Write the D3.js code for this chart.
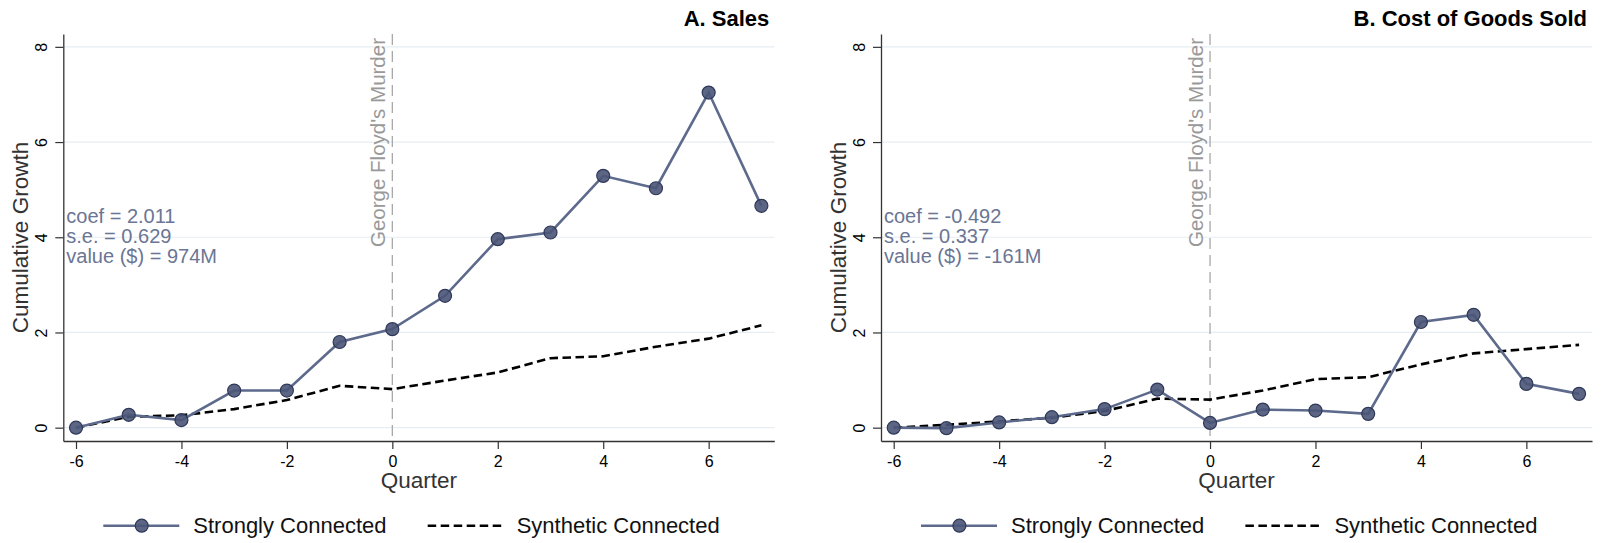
<!DOCTYPE html>
<html>
  <head>
    <meta charset="utf-8" />
    <title>Cumulative Growth</title>
    <script src="https://d3js.org/d3.v7.min.js"></script>
    <style>
      body { margin: 0; background: #fff; }
      text { font-family: "Liberation Sans", Arial, Helvetica, sans-serif; }
    </style>
  </head>
  <body>
    <svg width="1601" height="543"></svg>
    <script>
      var quarters = [-6, -5, -4, -3, -2, -1, 0, 1, 2, 3, 4, 5, 6, 7];

      var salesStrong = [0, 0.27, 0.16, 0.78, 0.78, 1.8, 2.07, 2.77, 3.96, 4.1, 5.29, 5.03, 7.04, 4.66];
      var salesSynth = [0, 0.23, 0.26, 0.39, 0.58, 0.88, 0.81, 0.99, 1.16, 1.46, 1.5, 1.7, 1.87, 2.15];

      var cogsStrong = [0, -0.01, 0.11, 0.22, 0.39, 0.8, 0.1, 0.38, 0.36, 0.29, 2.22, 2.37, 0.92, 0.71];
      var cogsSynth = [0, 0.06, 0.13, 0.21, 0.35, 0.61, 0.59, 0.78, 1.02, 1.06, 1.33, 1.56, 1.65, 1.74];

      var salesStats = ["coef = 2.011", "s.e. = 0.629", "value ($) = 974M"];
      var cogsStats = ["coef = -0.492", "s.e. = 0.337", "value ($) = -161M"];

      var xTicks = [-6, -4, -2, 0, 2, 4, 6];
      var yTicks = [0, 2, 4, 6, 8];

      var svg = d3.select("svg");

      var plotW = 711,
        plotH = 407,
        plotTop = 34;

      var lineColor = "#5d6a8c",
        markerFill = "#4a5577",
        markerStroke = "#2e3858";

      function drawPanel(left, title, strong, synth, stats) {
        var g = svg.append("g").attr("transform", "translate(" + left + "," + plotTop + ")");

        var x = d3.scaleLinear().domain([-6.241, 7.245]).range([0, plotW]);
        var y = d3.scaleLinear().domain([-0.28, 8.27]).range([plotH, 0]);

        // gridlines
        g.selectAll(".grid")
          .data(yTicks)
          .enter()
          .append("line")
          .attr("x1", 0)
          .attr("x2", plotW)
          .attr("y1", (d) => y(d))
          .attr("y2", (d) => y(d))
          .attr("stroke", "#e6edf3")
          .attr("stroke-width", 1.2);

        // event line
        g.append("line")
          .attr("x1", x(0))
          .attr("x2", x(0))
          .attr("y1", 0)
          .attr("y2", plotH)
          .attr("stroke", "#a8a8a8")
          .attr("stroke-width", 1.3)
          .attr("stroke-dasharray", "11,6");

        g.append("text")
          .attr("transform", "translate(" + (x(0) - 7) + "," + 4 + ") rotate(-90)")
          .attr("text-anchor", "end")
          .attr("font-size", 20.5)
          .attr("fill", "#999999")
          .text("George Floyd's Murder");

        // axes
        var fmt = (d) => String(d);
        var yAxis = g.append("g").call(d3.axisLeft(y).tickValues(yTicks).tickFormat(fmt).tickSize(8).tickSizeOuter(0));
        yAxis.selectAll("text")
          .attr("transform", "rotate(-90)")
          .attr("x", 0)
          .attr("y", -16)
          .attr("dy", 0)
          .attr("text-anchor", "middle")
          .attr("font-size", 16)
          .attr("fill", "#000");

        var xAxis = g.append("g")
          .attr("transform", "translate(0," + plotH + ")")
          .call(d3.axisBottom(x).tickValues(xTicks).tickFormat(fmt).tickSize(8).tickSizeOuter(0).tickPadding(7));
        xAxis.selectAll("text").attr("font-size", 16).attr("fill", "#000");

        [yAxis, xAxis].forEach(function (a) {
          a.attr("font-family", null);
          a.select(".domain").attr("stroke", "#333").attr("stroke-width", 1.3);
          a.selectAll(".tick line").attr("stroke", "#333").attr("stroke-width", 1.2);
        });

        // axis titles
        g.append("text")
          .attr("transform", "translate(-35," + plotH / 2 + ") rotate(-90)")
          .attr("text-anchor", "middle")
          .attr("font-size", 22.5)
          .attr("fill", "#333")
          .text("Cumulative Growth");

        g.append("text")
          .attr("x", plotW / 2)
          .attr("y", plotH + 47)
          .attr("text-anchor", "middle")
          .attr("font-size", 22.5)
          .attr("fill", "#333")
          .text("Quarter");

        // title
        g.append("text")
          .attr("x", plotW - 5)
          .attr("y", -8)
          .attr("text-anchor", "end")
          .attr("font-size", 22)
          .attr("font-weight", "bold")
          .attr("fill", "#000")
          .text(title);

        // stats
        g.selectAll(".stat")
          .data(stats)
          .enter()
          .append("text")
          .attr("x", 3)
          .attr("y", (d, i) => 188.5 + i * 20.3)
          .attr("font-size", 20)
          .attr("fill", "#6b7594")
          .text((d) => d);

        var line = d3.line()
          .x((d, i) => x(quarters[i]))
          .y((d) => y(d));

        g.append("path")
          .attr("d", line(synth))
          .attr("fill", "none")
          .attr("stroke", "#000")
          .attr("stroke-width", 2.6)
          .attr("stroke-dasharray", "8.5,4.5");

        g.append("path")
          .attr("d", line(strong))
          .attr("fill", "none")
          .attr("stroke", lineColor)
          .attr("stroke-width", 2.6);

        g.selectAll(".pt")
          .data(strong)
          .enter()
          .append("circle")
          .attr("cx", (d, i) => x(quarters[i]))
          .attr("cy", (d) => y(d))
          .attr("r", 6.5)
          .attr("fill", markerFill)
          .attr("fill-opacity", 0.9)
          .attr("stroke", markerStroke)
          .attr("stroke-width", 1.2);

        // legend
        var lg = g.append("g").attr("transform", "translate(0," + (525.7 - plotTop) + ")");
        lg.append("line")
          .attr("x1", 40).attr("x2", 116)
          .attr("stroke", lineColor).attr("stroke-width", 2.6);
        lg.append("circle")
          .attr("cx", 78.4).attr("r", 6.5)
          .attr("fill", markerFill).attr("fill-opacity", 0.9)
          .attr("stroke", markerStroke).attr("stroke-width", 1.2);
        lg.append("text")
          .attr("x", 130).attr("y", 7.5)
          .attr("font-size", 22).attr("fill", "#111")
          .text("Strongly Connected");
        lg.append("line")
          .attr("x1", 364.4).attr("x2", 440.7)
          .attr("stroke", "#000").attr("stroke-width", 2.6)
          .attr("stroke-dasharray", "8.5,4.5");
        lg.append("text")
          .attr("x", 453.4).attr("y", 7.5)
          .attr("font-size", 22).attr("fill", "#111")
          .text("Synthetic Connected");
      }

      drawPanel(63.3, "A. Sales", salesStrong, salesSynth, salesStats);
      drawPanel(881, "B. Cost of Goods Sold", cogsStrong, cogsSynth, cogsStats);
    </script>
  </body>
</html>
